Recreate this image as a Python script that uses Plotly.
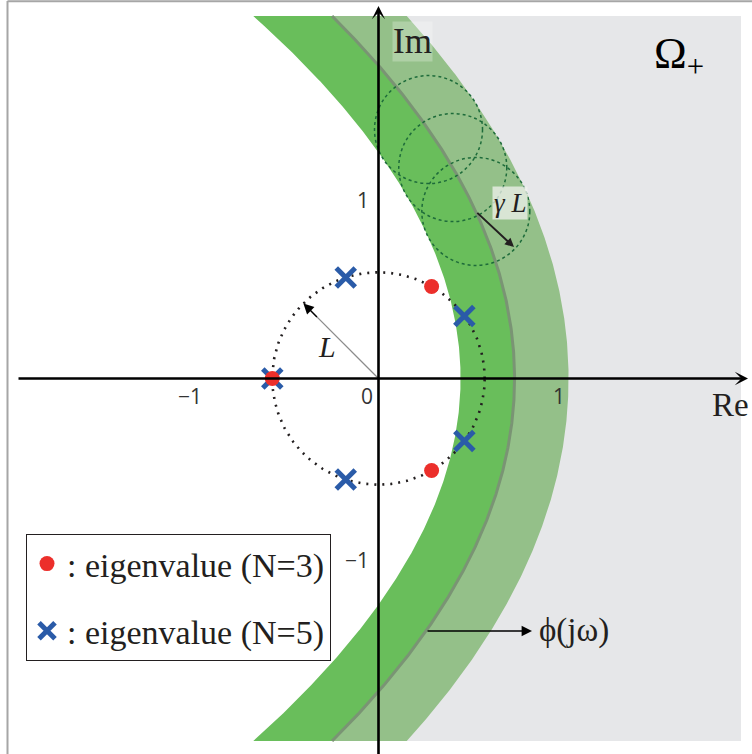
import numpy as np
import plotly.graph_objects as go

# ---------------- data ----------------
L = 0.59                 # radius of the eigenvalue circle
gamma_L = 0.30           # half width of the band (gamma * L)
phi_vertex = 0.756       # phi(j0) on the real axis
phi_curv = 0.25          # phi(jw) modelled as Re = vertex - curv * Im^2
eig3_re = [0.295, -0.59, 0.295]
eig3_im = [0.511, 0.0, -0.511]
eig5_re = [0.477, -0.182, -0.59, -0.182, 0.477]
eig5_im = [0.347, 0.561, 0.0, -0.561, -0.347]
disk_im = [1.383, 1.172, 0.928]        # centres of the gamma*L discs (Im part)
xtick_vals = [-1, 0, 1]
xtick_text = ["−1", "0", "1"]
ytick_vals = [1, -1]
ytick_text = ["1", "−1"]

# ---------------- geometry helpers ----------------
W, H = 752, 754
S = 180.0
OX, OY = 378.5, 378.5


def X(px):
    return (px - OX) / S


def Y(py):
    return (OY - py) / S


def phi_re(im):
    return phi_vertex - phi_curv * np.asarray(im) ** 2


YCLIP = Y(16)            # band / region clipped at top and bottom
XRIGHT = X(741)

t = np.linspace(-3.2, 3.2, 3001)
cx, cy = phi_re(t), t
nrm = np.sqrt(1 + (2 * phi_curv * t) ** 2)
nx, ny = 1 / nrm, 2 * phi_curv * t / nrm
ox, oy = cx + gamma_L * nx, cy + gamma_L * ny
ix, iy = cx - gamma_L * nx, cy - gamma_L * ny

yg = np.linspace(-YCLIP, YCLIP, 600)
cxg = np.interp(yg, cy, cx)
oxg = np.interp(yg, oy, ox)
ixg = np.interp(yg, iy, ix)

GRAY = "#e6e7e9"
DARKG = "#69be5b"
LIGHTG = "#94c089"
CURVE = "#7a9474"
RED = "#ec2f2b"
BLUE = "#2a5ba8"
INK = "#231f20"
SERIF = "Liberation Serif"

fig = go.Figure()

# Omega_+ region (right of phi)
fig.add_trace(go.Scatter(
    x=np.concatenate([cxg, [XRIGHT, XRIGHT]]),
    y=np.concatenate([yg, [YCLIP, -YCLIP]]),
    fill="toself", fillcolor=GRAY, line=dict(width=0), mode="lines",
    hoverinfo="skip", showlegend=False))
# inner half of band
fig.add_trace(go.Scatter(
    x=np.concatenate([ixg, cxg[::-1]]),
    y=np.concatenate([yg, yg[::-1]]),
    fill="toself", fillcolor=DARKG, line=dict(width=0), mode="lines",
    hoverinfo="skip", showlegend=False))
# outer half of band
fig.add_trace(go.Scatter(
    x=np.concatenate([cxg, oxg[::-1]]),
    y=np.concatenate([yg, yg[::-1]]),
    fill="toself", fillcolor=LIGHTG, line=dict(width=0), mode="lines",
    hoverinfo="skip", showlegend=False))
# phi(jw) curve
fig.add_trace(go.Scatter(
    x=cxg, y=yg, mode="lines", line=dict(color=CURVE, width=3),
    hoverinfo="skip", showlegend=False))

# dotted circle of radius L
th = np.linspace(0, 2 * np.pi, 400)
fig.add_trace(go.Scatter(
    x=L * np.cos(th), y=L * np.sin(th), mode="lines",
    line=dict(color=INK, width=2.6, dash="2px,6px"),
    hoverinfo="skip", showlegend=False))

# eigenvalues
fig.add_trace(go.Scatter(
    x=eig5_re, y=eig5_im, mode="markers", name=": eigenvalue (N=5)",
    legendgroup="b", legendrank=2,
    marker=dict(symbol="x-thin", size=19, color=BLUE,
                line=dict(color=BLUE, width=5))))
fig.add_trace(go.Scatter(
    x=eig3_re, y=eig3_im, mode="markers", name=": eigenvalue (N=3)",
    legendgroup="a", legendrank=1,
    marker=dict(symbol="circle", size=15, color=RED)))

shapes = []
# frame lines
shapes.append(dict(type="line", xref="paper", yref="paper",
                   x0=7.5 / W, x1=7.5 / W, y0=0, y1=1 - 1 / H,
                   line=dict(color="#a6a6a6", width=2)))
shapes.append(dict(type="line", xref="paper", yref="paper",
                   x0=7.5 / W, x1=1, y0=1 - 1.2 / H, y1=1 - 1.2 / H,
                   line=dict(color="#a6a6a6", width=2)))
# gamma*L discs
for yc in disk_im:
    xc = float(phi_re(yc))
    shapes.append(dict(type="circle", xref="x", yref="y", layer="above",
                       x0=xc - gamma_L, x1=xc + gamma_L,
                       y0=yc - gamma_L, y1=yc + gamma_L,
                       line=dict(color="#1d6b3a", width=1.5, dash="3px,3px")))
# L radius line (gray)
ang = np.deg2rad(135)
shapes.append(dict(type="line", xref="x", yref="y", layer="above",
                   x0=0, y0=0, x1=0.93 * L * np.cos(ang), y1=0.93 * L * np.sin(ang),
                   line=dict(color="#8c8c8c", width=1.3)))
fig.update_layout(shapes=shapes)

ann = []
# axes
ann.append(dict(x=X(748), y=0, ax=X(17), ay=0, xref="x", yref="y",
                axref="x", ayref="y", text="", showarrow=True,
                arrowhead=3, arrowsize=0.85, arrowwidth=2.6, arrowcolor="black",
                standoff=0))
ann.append(dict(x=0, y=Y(6), ax=0, ay=Y(760), xref="x", yref="y",
                axref="x", ayref="y", text="", showarrow=True,
                arrowhead=3, arrowsize=0.85, arrowwidth=2.6, arrowcolor="black",
                standoff=0))
# L arrow head
ann.append(dict(x=L * np.cos(ang), y=L * np.sin(ang),
                ax=0.8 * L * np.cos(ang), ay=0.8 * L * np.sin(ang),
                xref="x", yref="y", axref="x", ayref="y", text="",
                showarrow=True, arrowhead=2, arrowsize=1.6, arrowwidth=1.3,
                arrowcolor="black", standoff=0))
# gamma L arrow
yc3 = disk_im[2]
xc3 = float(phi_re(yc3))
ga = np.deg2rad(-43)
ann.append(dict(x=xc3 + 0.29 * np.cos(ga), y=yc3 + 0.29 * np.sin(ga),
                ax=xc3, ay=yc3, xref="x", yref="y", axref="x", ayref="y",
                text="", showarrow=True, arrowhead=2, arrowsize=0.9,
                arrowwidth=2, arrowcolor=INK, standoff=0))
# phi arrow
yphi = Y(631)
ann.append(dict(x=X(532), y=yphi, ax=float(phi_re(yphi)), ay=yphi,
                xref="x", yref="y", axref="x", ayref="y", text="",
                showarrow=True, arrowhead=2, arrowsize=1.6, arrowwidth=1.3,
                arrowcolor="black", standoff=0))

# texts
ann.append(dict(x=X(412), y=Y(41), xref="x", yref="y", text="Im",
                showarrow=False, font=dict(family=SERIF, size=35, color=INK),
                bgcolor="rgba(255,255,255,0.25)", borderpad=0))
ann.append(dict(x=X(730), y=Y(405), xref="x", yref="y", text="Re",
                showarrow=False, font=dict(family=SERIF, size=33, color=INK)))
ann.append(dict(x=X(327), y=Y(346), xref="x", yref="y", text="<i>L</i>",
                showarrow=False, font=dict(family=SERIF, size=30, color=INK)))
ann.append(dict(x=X(510), y=Y(203), xref="x", yref="y", text="<i>γ L</i>",
                showarrow=False, font=dict(family=SERIF, size=27, color=INK),
                bgcolor="rgba(240,242,238,0.75)", borderpad=1))
ann.append(dict(x=X(652), y=Y(56), xref="x", yref="y", xanchor="left",
                text="Ω<sub>+</sub>", showarrow=False,
                font=dict(family=SERIF, size=44, color="black")))
ann.append(dict(x=X(537), y=Y(630), xref="x", yref="y", xanchor="left",
                text="ϕ(jω)", showarrow=False,
                font=dict(family=SERIF, size=33, color=INK)))

# tick labels
tick_font = dict(family="Open Sans", size=21, color="#333333")
xshifts = {-1: -8.5, 0: -11.5, 1: 0}
for v, s in zip(xtick_vals, xtick_text):
    ann.append(dict(x=v, y=0, xref="x", yref="y", text=s, showarrow=False,
                    xshift=xshifts[v], yshift=-17, font=tick_font))
for v, s in zip(ytick_vals, ytick_text):
    ann.append(dict(x=0, y=v, xref="x", yref="y", text=s, showarrow=False,
                    xanchor="right", xshift=-8, yshift=-1, font=tick_font))
fig.update_layout(annotations=ann)

fig.update_layout(
    width=W, height=H, margin=dict(l=0, r=0, t=0, b=0),
    paper_bgcolor="white", plot_bgcolor="white",
    xaxis=dict(range=[X(0), X(W)], visible=False, fixedrange=True),
    yaxis=dict(range=[Y(H), Y(0)], visible=False, fixedrange=True),
    showlegend=True,
    legend=dict(x=26 / W, y=1 - 534 / H, xanchor="left", yanchor="top",
                bordercolor=INK, borderwidth=1, bgcolor="white",
                font=dict(family=SERIF, size=34, color=INK),
                tracegroupgap=20, traceorder="grouped"),
)

fig.write_html("out.html", config={"displayModeBar": False},
               post_script="document.body.style.margin='0px';")
